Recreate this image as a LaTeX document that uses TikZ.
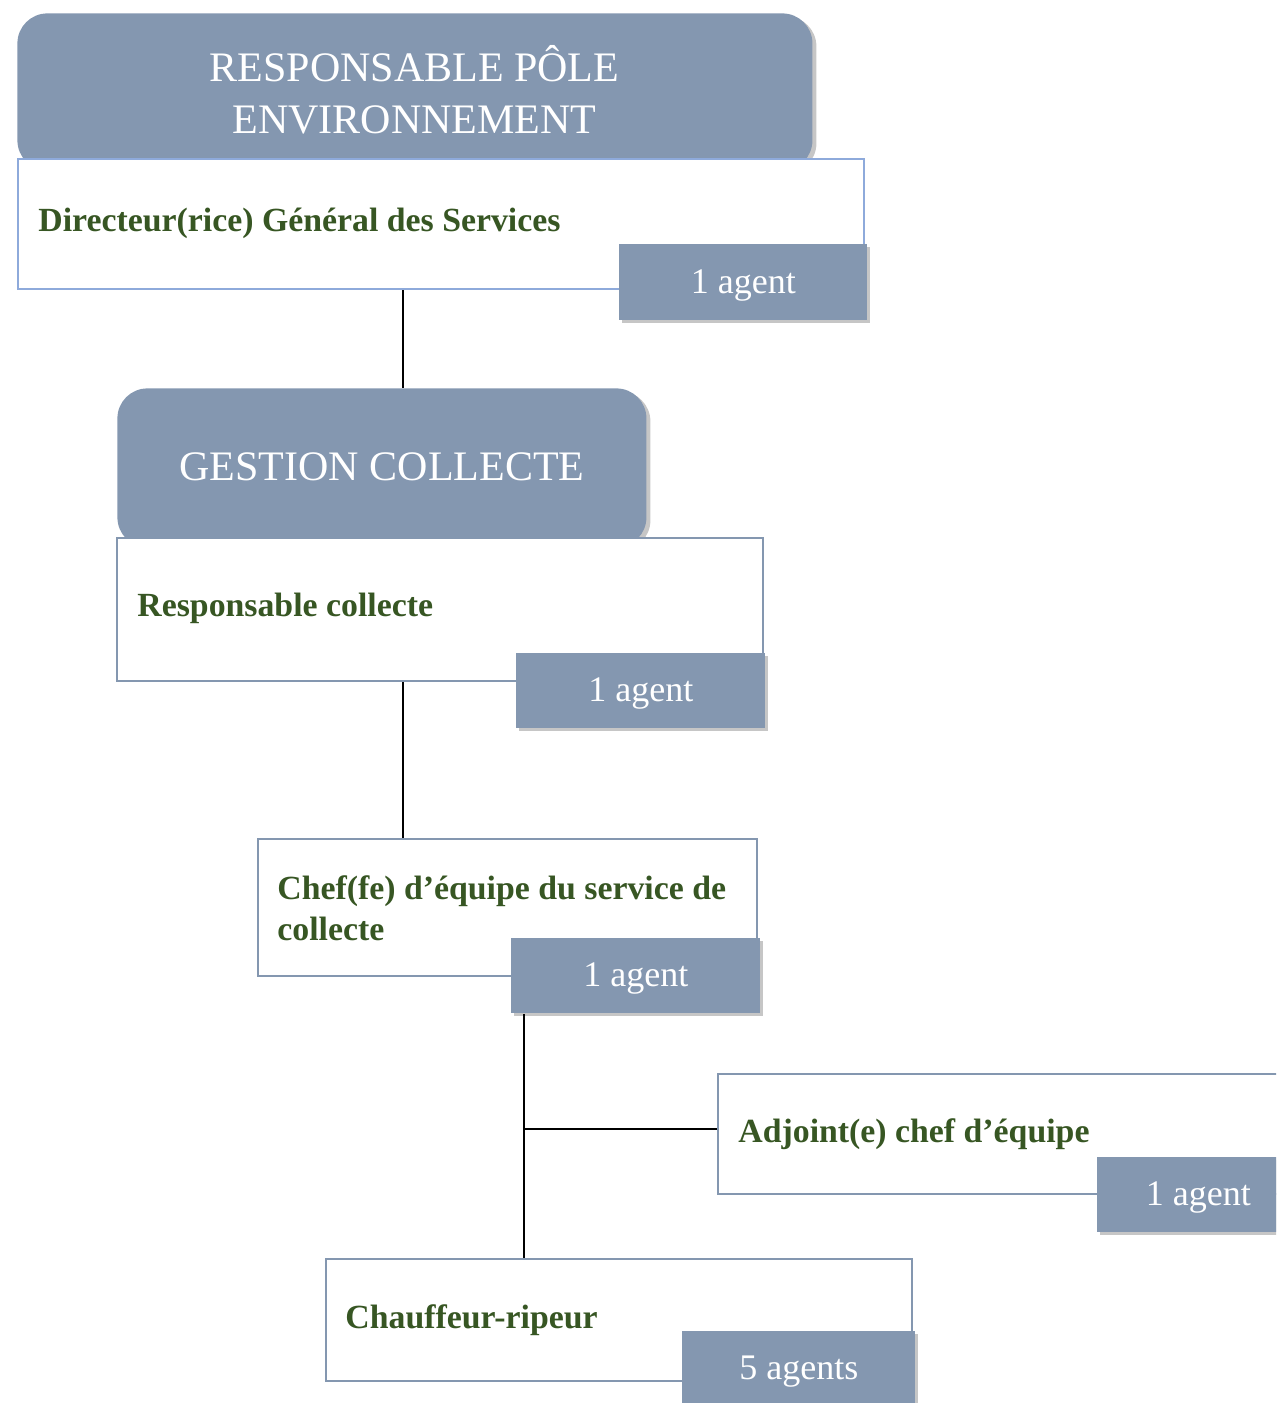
\documentclass[tikz,border=0pt]{standalone}
\usepackage{fontspec}
\setmainfont{Liberation Serif}
\usetikzlibrary{shadows}
\definecolor{slate}{HTML}{8497B0}
\definecolor{lblue}{HTML}{8EAADB}
\definecolor{dgreen}{HTML}{375623}
\tikzset{
  hdr/.style={fill=slate, rounded corners=15pt, anchor=north west, inner sep=0pt,
    text=white, font=\fontsize{21}{26}\selectfont, align=center,
    drop shadow={shadow xshift=2pt, shadow yshift=-1.5pt, opacity=0.45}},
  hdrtext/.style={text=white, font=\fontsize{21}{26}\selectfont, align=center},
  pbox/.style={draw=slate, line width=1pt, fill=white, anchor=north west, inner sep=0pt},
  agent/.style={fill=slate, anchor=north west, inner sep=0pt, text=white,
    drop shadow={shadow xshift=1.5pt, shadow yshift=-1.5pt, opacity=0.45}},
  agtext/.style={text=white, font=\fontsize{18}{22}\selectfont, yshift=-1.5pt},
  lbl/.style={anchor=west, inner sep=0pt, text=dgreen, font=\fontsize{16.9}{20.5}\selectfont\bfseries, align=left},
  conn/.style={line width=1pt, black}
}
\begin{document}
\begin{tikzpicture}[x=0.5pt, y=-0.5pt]
\useasboundingbox (0,0) rectangle (1276,1403);
\clip (0,0) rectangle (1276,1403);
\coordinate (c1) at (403,0);
\coordinate (c2) at (524,0);
\coordinate (jn) at (524,1129);
% header 1 and box 1
\node[hdr, minimum width=397.5pt, minimum height=78.5pt] (h1) at (17,13) {};
\node[hdrtext] (h1t) at (414.5,90) {RESPONSABLE PÔLE\\ENVIRONNEMENT};
\node[pbox, draw=lblue, minimum width=423pt, minimum height=65pt] (b1) at (17,158) {};
% header 2
\node[hdr, minimum width=264.5pt, minimum height=79.5pt] (h2) at (117,388) {};
\node[hdrtext] (h2t) at (382,467) {GESTION COLLECTE};
\draw[conn] (b1.south -| c1) -- (h2.north -| c1);
\node[pbox, minimum width=323pt, minimum height=71.5pt] (b2) at (116,537) {};
\node[pbox, minimum width=249.5pt, minimum height=68.5pt] (b3) at (257,838) {};
\node[pbox, minimum width=286.5pt, minimum height=60pt] (b4) at (717,1073) {};
\node[pbox, minimum width=293pt, minimum height=61pt] (b5) at (325,1258) {};
\draw[conn] (b2.south -| c1) -- (b3.north -| c1);
% agent boxes
\node[agent, minimum width=124pt, minimum height=38pt] (a1) at (619,244) {};
\node[agent, minimum width=124.5pt, minimum height=37.5pt] (a2) at (516,653) {};
\node[agent, minimum width=124.5pt, minimum height=37.5pt] (a3) at (511,938) {};
\node[agent, minimum width=101pt, minimum height=37.5pt] (a4) at (1097,1157) {};
\node[agent, minimum width=116.5pt, minimum height=37pt] (a5) at (682,1331) {};
\draw[conn] (a3.south -| c2) -- (b5.north -| c2);
\draw[conn] (jn) -- (b4.west |- jn);
% texts
\node[lbl] (t1) at (38,223) {Directeur(rice) Général des Services};
\node[lbl] (t2) at (137,608) {Responsable collecte};
\node[lbl] (t3) at (277,908) {Chef(fe) d’équipe du service de\\collecte};
\node[lbl] (t4) at (738,1134) {Adjoint(e) chef d’équipe};
\node[lbl] (t5) at (345,1320) {Chauffeur-ripeur};
\node[agtext] (g1) at (a1.center) {1 agent};
\node[agtext] (g2) at (a2.center) {1 agent};
\node[agtext] (g3) at (a3.center) {1 agent};
\node[agtext] (g4) at (a4.center) {1 agent};
\node[agtext] (g5) at (a5.center) {5 agents};
\end{tikzpicture}
\end{document}
